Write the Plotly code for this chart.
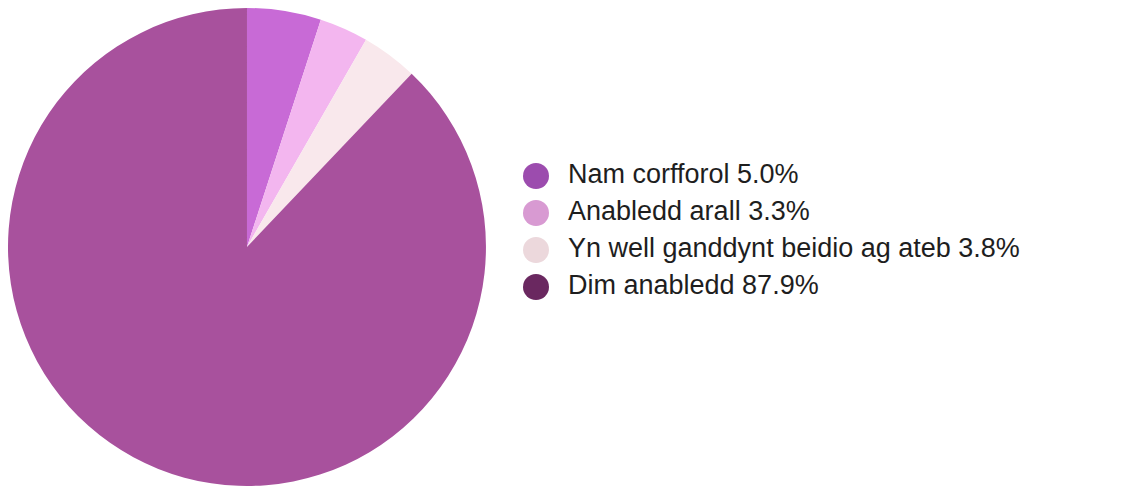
import plotly.graph_objects as go

categories = ["Nam corfforol", "Anabledd arall", "Yn well ganddynt beidio ag ateb", "Dim anabledd"]
values = [5.0, 3.3, 3.8, 87.9]
pie_colors = ["#c86ad6", "#f3b6ef", "#f9e8ec", "#a8519d"]
legend_colors = ["#9c4cae", "#d89ad2", "#ecd8dc", "#6a2860"]

labels = [f"{c} {v:.1f}%" for c, v in zip(categories, values)]
idx = list(range(len(categories)))

fig = go.Figure()
fig.add_trace(go.Pie(
    labels=categories, values=values, sort=False, direction="clockwise", rotation=0,
    marker=dict(colors=pie_colors, line=dict(width=0)),
    textinfo="none", hoverinfo="label+percent", showlegend=False,
    domain=dict(x=[0.0, 0.4167], y=[0.0225, 1.0]),
))
fig.add_trace(go.Scatter(
    x=[0] * len(idx), y=idx, mode="markers",
    marker=dict(size=26, color=legend_colors, symbol="circle", line=dict(width=0)),
    showlegend=False, hoverinfo="skip",
))
fig.add_trace(go.Scatter(
    x=[32] * len(idx), y=idx, mode="text", text=labels, textposition="middle right",
    textfont=dict(family="Liberation Sans, Arial, sans-serif", size=27, color="#1e1e1e"),
    showlegend=False, hoverinfo="skip",
))
fig.update_layout(
    width=1147, height=489,
    margin=dict(l=0, r=0, t=0, b=0),
    paper_bgcolor="white", plot_bgcolor="rgba(0,0,0,0)",
    xaxis=dict(range=[-528, 619], visible=False, fixedrange=True),
    yaxis=dict(range=[8.675, -4.541], visible=False, fixedrange=True),
)
fig.write_html("out.html")
